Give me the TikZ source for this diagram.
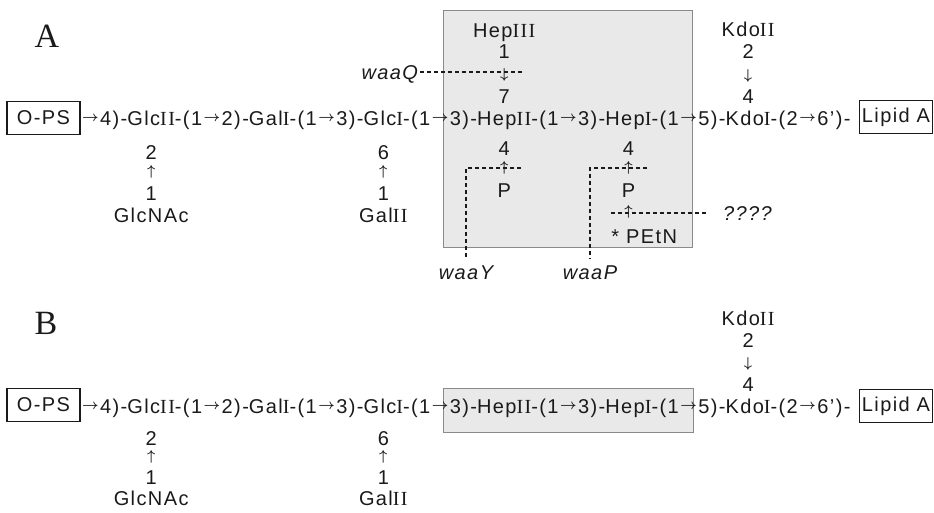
\documentclass[tikz,border=0pt]{standalone}
\usepackage{fontspec}
\setmainfont{Liberation Sans}[LetterSpace=7]
\newfontfamily\rmnum{Liberation Serif}[LetterSpace=7]
\newfontfamily\capfont{Liberation Serif}
\newcommand\RN[1]{{\rmnum #1}}
\newcommand\ra{\kern1.5pt\raisebox{3.5pt}{\fontsize{14}{14}\selectfont\boldmath$\rightarrow$}\kern1.5pt}
\newcommand\ua{\raisebox{3pt}{\fontsize{15}{15}\selectfont\boldmath$\uparrow$}}
\newcommand\da{\raisebox{1pt}{\fontsize{15}{15}\selectfont\boldmath$\downarrow$}}
\definecolor{boxgray}{HTML}{E9E9E9}
\definecolor{boxedge}{HTML}{8A8A8A}
\definecolor{ink}{HTML}{1A1A1A}
\begin{document}
\begin{tikzpicture}[x=1pt,y=-1pt,
  txt/.style={inner sep=0pt, outer sep=0pt, text height=14.3pt, text depth=0pt,
    font=\fontsize{20}{22}\selectfont, text=ink},
  arw/.style={txt, text height=12pt},
  itl/.style={txt, font=\fontsize{20}{22}\selectfont\itshape},
  endbox/.style={draw=ink, line width=1.2pt, minimum width=73pt, minimum height=33pt,
    inner sep=0pt, font=\fontsize{20}{22}\selectfont, text=ink},
  graybox/.style={fill=boxgray, draw=boxedge, line width=0.8pt},
  dsh/.style={draw=ink, line width=1.3pt, dash pattern=on 4pt off 3pt},
  panel/.style={inner sep=0pt, font=\capfont\fontsize{34}{36}\selectfont, text=ink}
]
\useasboundingbox (0,0) rectangle (934,512);

% ---------------- gray regions
\draw[graybox] (443,10) rectangle (692,247);
\draw[graybox] (443,388) rectangle (693,432);

% ---------------- panel letters
\node[panel] (labA) at (47,36) {A};
\node[panel] (labB) at (46,323) {B};

% ================= Panel A
\node[endbox] (opsA) at (43.5,118) {O-PS};
\node[endbox] (lipA) at (896,117) {Lipid A};
\node[txt, anchor=west] (a0) at (80.6,118) {\ra 4)-};
\node[txt, anchor=west] (aGlcII) at (a0.east) {Glc\RN{II}};
\node[txt, anchor=west] (a1) at (aGlcII.east) {-(1\ra 2)-};
\node[txt, anchor=west] (aGalI) at (a1.east) {Gal\RN{I}};
\node[txt, anchor=west] (a2) at (aGalI.east) {-(1\ra 3)-};
\node[txt, anchor=west] (aGlcI) at (a2.east) {Glc\RN{I}};
\node[txt, anchor=west] (a3) at (aGlcI.east) {-(1\ra 3)-};
\node[txt, anchor=west] (aHepII) at (a3.east) {Hep\RN{II}};
\node[txt, anchor=west] (a4) at (aHepII.east) {-(1\ra 3)-};
\node[txt, anchor=west] (aHepI) at (a4.east) {Hep\RN{I}};
\node[txt, anchor=west] (a5) at (aHepI.east) {-(1\ra 5)-};
\node[txt, anchor=west] (aKdoI) at (a5.east) {Kdo\RN{I}};
\node[txt, anchor=west] (a6) at (aKdoI.east) {-(2\ra 6’)-};

% GlcNAc branch
\node[txt] (aG2) at (aGlcII |- 0,152) {2};
\node[arw] (aG2ar) at (aGlcII |- 0,172) {\ua};
\node[txt] (aG2one) at (aGlcII |- 0,193) {1};
\node[txt] (aGlcNAc) at (aGlcII |- 0,215) {GlcNAc};
% GalII branch
\node[txt] (aG6) at (aGlcI |- 0,152) {6};
\node[arw] (aG6ar) at (aGlcI |- 0,172) {\ua};
\node[txt] (aG6one) at (aGlcI |- 0,193) {1};
\node[txt] (aGalII) at (aGlcI |- 0,215) {Gal\RN{II}};
% HepIII branch
\node[txt] (aHepIII) at (aHepII |- 0,30) {Hep\RN{III}};
\node[txt] (aH1) at (aHepII |- 0,51) {1};
\node[arw] (aHar) at (aHepII |- 0,73) {\da};
\node[txt] (aH7) at (aHepII |- 0,96) {7};
% HepII phosphate
\node[txt] (aP4) at (aHepII |- 0,148) {4};
\node[arw] (aPar) at (aHepII |- 0,168) {\ua};
\node[txt] (aP) at (aHepII |- 0,190) {P};
% HepI phosphate and PEtN
\node[txt] (aQ4) at (aHepI |- 0,148) {4};
\node[arw] (aQar) at (aHepI |- 0,168) {\ua};
\node[txt] (aQ) at (aHepI |- 0,190) {P};
\node[arw] (aQar2) at (aHepI |- 0,212) {\ua};
\node[txt, anchor=west] (aPEtN) at ([xshift=-17pt]aHepI |- 0,236) {* PEtN};
% KdoII branch
\node[txt] (aKdoII) at (aKdoI |- 0,29) {Kdo\RN{II}};
\node[txt] (aK2) at (aKdoI |- 0,51) {2};
\node[arw] (aKar) at (aKdoI |- 0,74) {\da};
\node[txt] (aK4) at (aKdoI |- 0,96) {4};

% gene labels and dashed markers
\node[itl, anchor=east] (waaQ) at (418,72) {waaQ};
\coordinate (qEnd) at ([xshift=18pt]aHar.center);
\draw[dsh] ([xshift=2pt]waaQ.east) -- (qEnd |- waaQ.east);

\node[itl] (waaY) at (466,272) {waaY};
\coordinate (yStart) at ([xshift=17pt]aPar.center);
\draw[dsh] (yStart) -| ([yshift=7pt]waaY.north);

\node[itl] (waaP) at (590,272) {waaP};
\coordinate (pStart) at ([xshift=19pt]aQar.center);
\draw[dsh] (pStart) -| ([yshift=7pt]waaP.north);

\node[itl, anchor=west] (unk) at (723,213) {????};
\coordinate (uStart) at ([xshift=-17pt]aQar2.center);
\draw[dsh] (uStart |- unk.west) -- ([xshift=-15pt]unk.west);

% ================= Panel B
\node[endbox] (opsB) at (43.5,405) {O-PS};
\node[endbox] (lipB) at (896,406) {Lipid A};
\node[txt, anchor=west] (b0) at (80.6,406) {\ra 4)-};
\node[txt, anchor=west] (bGlcII) at (b0.east) {Glc\RN{II}};
\node[txt, anchor=west] (b1) at (bGlcII.east) {-(1\ra 2)-};
\node[txt, anchor=west] (bGalI) at (b1.east) {Gal\RN{I}};
\node[txt, anchor=west] (b2) at (bGalI.east) {-(1\ra 3)-};
\node[txt, anchor=west] (bGlcI) at (b2.east) {Glc\RN{I}};
\node[txt, anchor=west] (b3) at (bGlcI.east) {-(1\ra 3)-};
\node[txt, anchor=west] (bHepII) at (b3.east) {Hep\RN{II}};
\node[txt, anchor=west] (b4) at (bHepII.east) {-(1\ra 3)-};
\node[txt, anchor=west] (bHepI) at (b4.east) {Hep\RN{I}};
\node[txt, anchor=west] (b5) at (bHepI.east) {-(1\ra 5)-};
\node[txt, anchor=west] (bKdoI) at (b5.east) {Kdo\RN{I}};
\node[txt, anchor=west] (b6) at (bKdoI.east) {-(2\ra 6’)-};

\node[txt] (bG2) at (bGlcII |- 0,438) {2};
\node[arw] (bG2ar) at (bGlcII |- 0,457) {\ua};
\node[txt] (bG2one) at (bGlcII |- 0,477) {1};
\node[txt] (bGlcNAc) at (bGlcII |- 0,498) {GlcNAc};
\node[txt] (bG6) at (bGlcI |- 0,438) {6};
\node[arw] (bG6ar) at (bGlcI |- 0,457) {\ua};
\node[txt] (bG6one) at (bGlcI |- 0,477) {1};
\node[txt] (bGalII) at (bGlcI |- 0,498) {Gal\RN{II}};
\node[txt] (bKdoII) at (bKdoI |- 0,318) {Kdo\RN{II}};
\node[txt] (bK2) at (bKdoI |- 0,340) {2};
\node[arw] (bKar) at (bKdoI |- 0,362) {\da};
\node[txt] (bK4) at (bKdoI |- 0,384) {4};
\end{tikzpicture}
\end{document}
